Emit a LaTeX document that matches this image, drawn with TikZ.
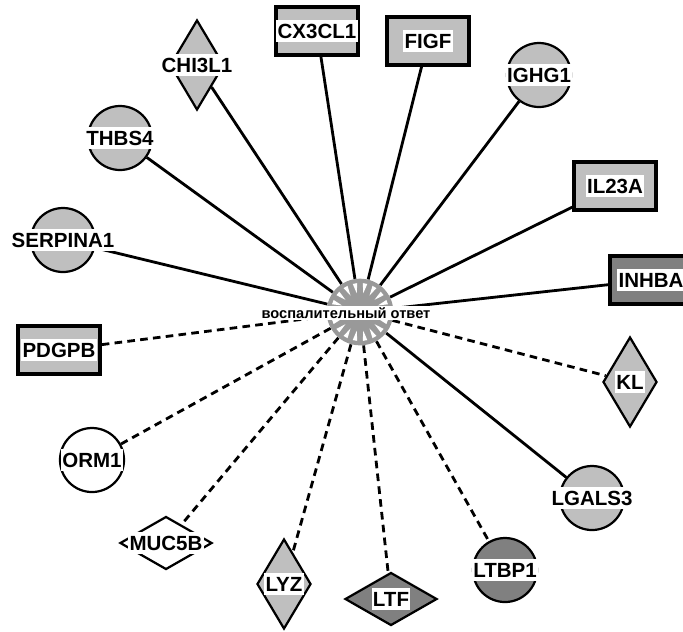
\documentclass[tikz,border=0pt]{standalone}
\usepackage{fontspec}
\setmainfont{Liberation Sans}
\usetikzlibrary{shapes.geometric, backgrounds}
\definecolor{hubgray}{HTML}{999999}
\tikzset{
x=0.03cm, y=-0.03cm, % one unit is one pixel of the original, y runs down
link/.style={line width=2.4pt}, % solid connection
dlink/.style={line width=2.4pt, dash pattern=on 6.5pt off 4.5pt}, % dashed connection
gene/.style={draw, line width=1.9pt, fill=gray!50, inner sep=0pt}, % common look of a gene
gcirc/.style={gene, circle, minimum size=1.92cm},
grect/.style={gene, rectangle, line width=3pt, minimum width=2.46cm, minimum height=1.44cm},
gtall/.style={gene, diamond, minimum width=1.62cm, minimum height=2.7cm},
gwide/.style={gene, diamond, minimum width=2.76cm, minimum height=1.59cm},
dark/.style={fill=gray}, % darker genes
empty/.style={fill=white}, % genes without fill
every label/.style={fill=white, font=\fontsize{17.5}{19}\selectfont\bfseries, inner xsep=1.2pt, inner ysep=2.5pt, text height=12.5pt, text depth=0.5pt},
hubtext/.style={fill=white, font=\fontsize{12.5}{14}\selectfont\bfseries, inner sep=1pt},
}

\begin{document}
\begin{tikzpicture}
\useasboundingbox (0, 0) rectangle (683, 631);

\node[gtall, label=center:CHI3L1] at (197, 65) (chi) {};
\node[grect, label=center:CX3CL1] at (317, 31) (cx3) {};
\node[grect, label=center:FIGF] at (428, 41) (figf) {};
\node[gcirc, label=center:IGHG1] at (539, 75) (ighg) {};
\node[grect, label=center:IL23A] at (615, 186) (il23) {};
\node[grect, dark, label=center:INHBA] at (651, 280) (inhba) {};
\node[gtall, label=center:KL] at (630, 382) (kl) {};
\node[gcirc, label=center:LGALS3] at (592, 498) (lgals) {};
\node[gcirc, dark, label=center:LTBP1] at (505, 570) (ltbp) {};
\node[gwide, dark, label=center:LTF] at (391, 599) (ltf) {};
\node[gtall, label=center:LYZ] at (284, 584) (lyz) {};
\node[gwide, empty, label=center:MUC5B] at (166, 543) (muc) {};
\node[gcirc, empty, label=center:ORM1] at (92, 460) (orm) {};
\node[grect, label=center:PDGPB] at (59, 350) (pdgpb) {};
\node[gcirc, label=center:SERPINA1] at (63, 240) (serp) {};
\node[gcirc, label=center:THBS4] at (120, 138) (thbs) {};

% the hub
\node[circle, fill=hubgray, minimum size=2.0cm, inner sep=0pt] at (360, 312) (hub) {};
\begin{scope}[shift={(hub.center)}]
\foreach \a in {0, 20, ..., 340}
  \fill[white] (\a-4.5:29) -- (\a+4.5:29) -- (\a:19) -- cycle;
\end{scope}
\node[hubtext] at (346, 313) (hubt) {воспалительный ответ};

\begin{scope}[on background layer]
\draw[link] (hub) -- (chi);
\draw[link] (hub) -- (cx3);
\draw[link] (hub) -- (figf);
\draw[link] (hub) -- (ighg);
\draw[link] (hub) -- (il23);
\draw[link] (hub) -- (inhba);
\draw[dlink] (hub) -- (kl);
\draw[link] (hub) -- (lgals);
\draw[dlink] (hub) -- (ltbp);
\draw[dlink] (hub) -- (ltf);
\draw[dlink] (hub) -- (lyz);
\draw[dlink] (hub) -- (muc);
\draw[dlink] (hub) -- (orm);
\draw[dlink] (hub) -- (pdgpb);
\draw[link] (hub) -- (serp);
\draw[link] (hub) -- (thbs);
\end{scope}

\end{tikzpicture}
\end{document}
